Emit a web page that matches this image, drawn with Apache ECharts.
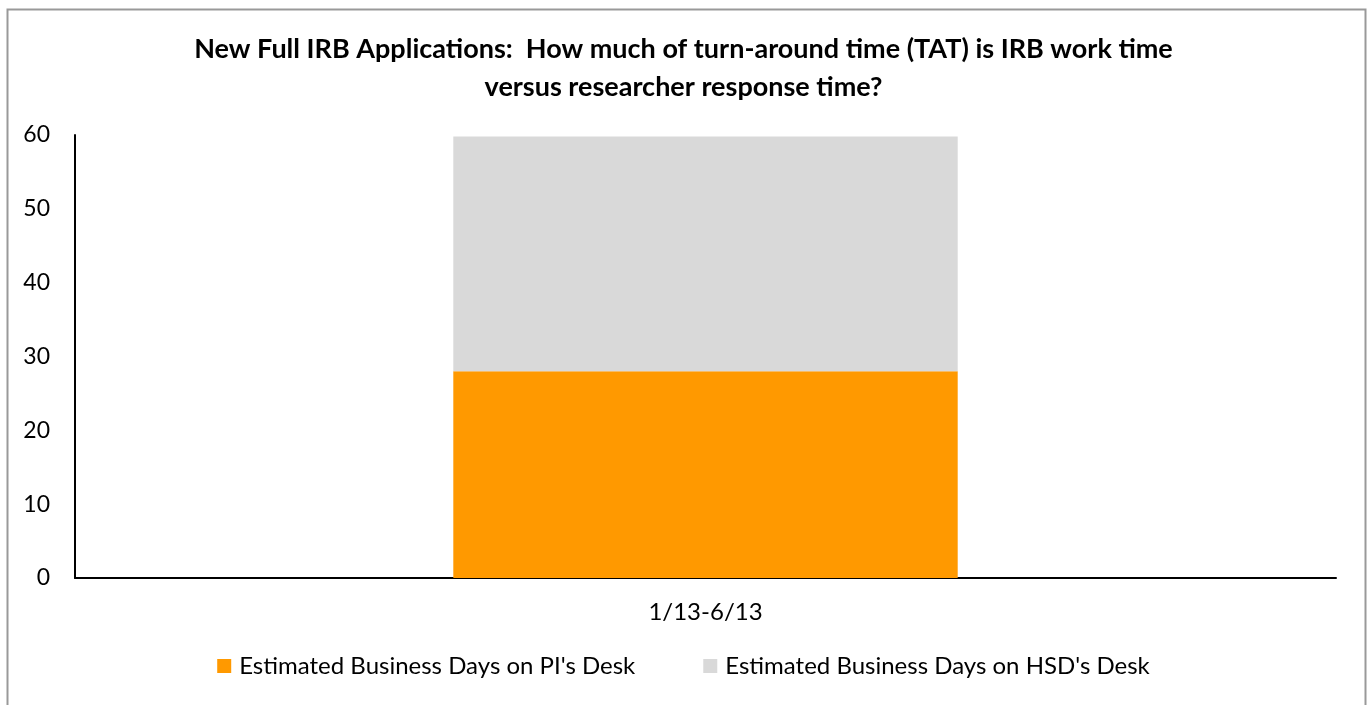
<!DOCTYPE html>
<html><head><meta charset="utf-8">
<script src="https://cdn.jsdelivr.net/npm/echarts@6/dist/echarts.min.js"></script>
<style>html,body{margin:0;padding:0;background:#fff}#c{width:1367px;height:705px}</style>
</head><body><div id="c"></div>
<script>
const categories = ['1/13-6/13'];
const piDesk = [28];
const hsdDesk = [31.8];
const yTicks = [0, 10, 20, 30, 40, 50, 60];
const seriesNames = ["Estimated Business Days on PI's Desk", "Estimated Business Days on HSD's Desk"];
const titleText = 'New Full IRB Applications:  How much of turn-around time (TAT) is IRB work time\nversus researcher response time?';

const FONT = 'Lato, "Noto Sans", sans-serif';
const chart = echarts.init(document.getElementById('c'));
chart.setOption({
  animation: false,
  backgroundColor: '#fff',
  graphic: [{
    type: 'rect', left: 5, top: 7, shape: {width: 1358, height: 720},
    style: {fill: 'none', stroke: '#999', lineWidth: 2}, silent: true
  }],
  title: {
    text: titleText, left: 'center', top: 25,
    textStyle: {fontFamily: FONT, fontSize: 27, fontWeight: 'bold', color: '#000', lineHeight: 38}
  },
  legend: {
    bottom: 22, left: 'center', itemWidth: 14, itemHeight: 14, itemGap: 68, icon: 'rect',
    textStyle: {fontFamily: FONT, fontSize: 24, color: '#000', padding: [0, 0, 0, 3]},
    data: seriesNames
  },
  grid: {left: 75, right: 31, top: 135, bottom: 127, containLabel: false},
  xAxis: {
    type: 'category', data: categories,
    axisLine: {lineStyle: {color: '#000', width: 2}},
    axisTick: {show: false},
    axisLabel: {fontFamily: FONT, fontSize: 24, color: '#000', margin: 22}
  },
  yAxis: {
    type: 'value', min: yTicks[0], max: yTicks[yTicks.length - 1], interval: 10,
    axisLine: {show: true, lineStyle: {color: '#000', width: 2}},
    axisTick: {show: false},
    splitLine: {show: false},
    axisLabel: {fontFamily: FONT, fontSize: 23, color: '#000', margin: 25}
  },
  series: [
    {name: seriesNames[0], type: 'bar', stack: 't', data: piDesk, barWidth: '40%', itemStyle: {color: '#FF9900'}},
    {name: seriesNames[1], type: 'bar', stack: 't', data: hsdDesk, barWidth: '40%', itemStyle: {color: '#D9D9D9'}}
  ]
});
</script></body></html>
